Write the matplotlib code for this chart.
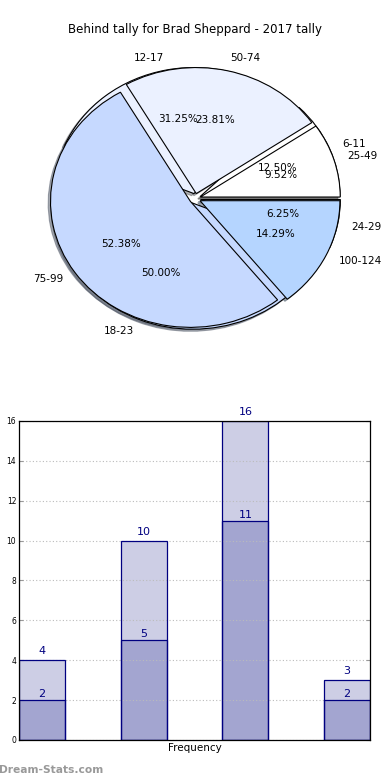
import matplotlib
matplotlib.use('Agg')
import matplotlib.pyplot as plt

# pie 1: ages of opponent (weeks behind)
labels_a = ['6-11', '12-17', '18-23', '24-29']
values_a = [2, 5, 8, 1]
# pie 2
labels_b = ['25-49', '50-74', '75-99', '100-124']
values_b = [2, 5, 11, 3]

pie_colors = ['#ffffff', '#ebf1ff', '#c6d9ff', '#b5d5ff']

# bar chart
bar_pos = [0, 1, 2, 3]
bar_total = [4, 10, 16, 3]
bar_inner = [2, 5, 11, 2]

fig = plt.figure(figsize=(3.9, 7.8), dpi=100)
fig.text(0.5, 1 - 30 / 780, 'Behind tally for Brad Sheppard - 2017 tally',
         ha='center', va='center', fontsize=8.5)

ax1 = fig.add_axes([0.023, 0.529, 0.954, 0.433])
explode = [0.04] * 4
for vals, labs in [(values_a, labels_a), (values_b, labels_b)]:
    wedges, texts, autotexts = ax1.pie(vals, labels=labs, colors=pie_colors, explode=explode,
                                       autopct='%.2f%%', shadow={'ox': -0.012, 'oy': -0.012, 'shade': 0.6},
                                       startangle=0,
                                       wedgeprops=dict(edgecolor='black', linewidth=0.8),
                                       textprops=dict(fontsize=7.5))
ax1.set_aspect('auto')
ax1.set_xlim(-1.33, 1.33)
ax1.set_ylim(-1.34, 1.34)
ax1.axis('off')

ax2 = fig.add_axes([0.0487, 0.0513, 0.9, 0.409])
# faces below the grid, outlines above it
for h, c in [(bar_total, '#cdcee5'), (bar_inner, '#a3a5d0')]:
    ax2.bar(bar_pos, h, width=0.45, align='edge', color=c, edgecolor='none', zorder=1)
    ax2.bar(bar_pos, h, width=0.45, align='edge', fill=False, edgecolor='#000080', linewidth=0.9, zorder=3)
for x, t, i in zip(bar_pos, bar_total, bar_inner):
    ax2.text(x + 0.225, t + 0.2, str(t), ha='center', va='bottom', color='#000080', fontsize=8, zorder=4)
    ax2.text(x + 0.225, i + 0.05, str(i), ha='center', va='bottom', color='#000080', fontsize=8, zorder=4)
ax2.set_xlim(0, 3.45)
ax2.set_ylim(0, 16)
ax2.set_yticks(range(0, 17, 2))
ax2.set_xticks([])
ax2.set_xlabel('Frequency', fontsize=7.5, labelpad=2)
ax2.yaxis.grid(True, linestyle=(0, (1, 2)), color='#bbbbbb', linewidth=0.8, zorder=2)
ax2.set_axisbelow(False)
ax2.tick_params(axis='y', direction='in', right=True, labelsize=5.5, pad=2, color='#999999', length=3)
for s in ax2.spines.values():
    s.set_linewidth(0.9)
    s.set_zorder(5)

fig.text(-0.002, 1 - 770 / 780, 'Dream-Stats.com', ha='left', va='center',
         fontsize=7.7, color='#999999', fontweight='bold')

fig.savefig('out.png', dpi=100)
